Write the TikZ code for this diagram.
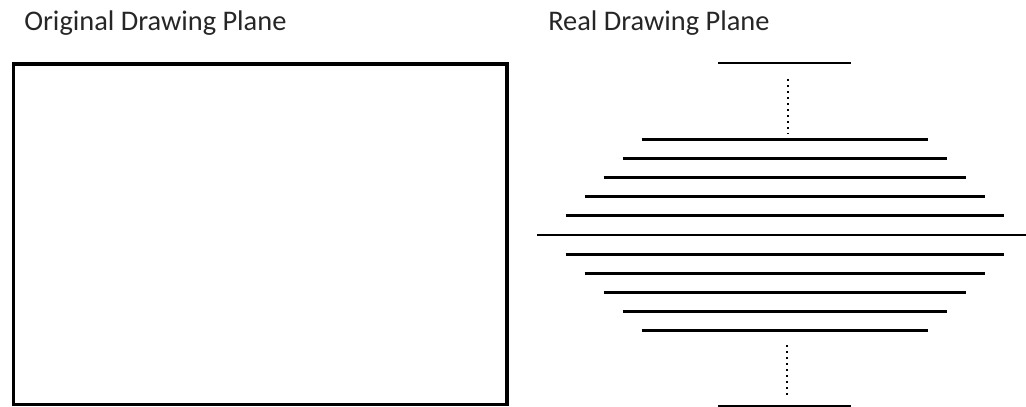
\documentclass[tikz,border=0pt]{standalone}
\usepackage{fontspec}
\setmainfont{Carlito}
\usepackage{tikz}

\begin{document}
\begin{tikzpicture}[
    x=0.025cm, y=-0.025cm,
    title/.style={anchor=base west, inner sep=0pt, text=black!85, font=\fontsize{20.2}{23}\selectfont},
    plane/.style={draw=black, line width=2.2pt},
    scanline/.style={draw=black, line width=2.1pt},
    gap/.style={draw=black, line width=2pt, dash pattern=on 1.5pt off 2.8pt}
]
\useasboundingbox (0,0) rectangle (1026,407);

\node[title] (origtitle) at (24,31) {Original Drawing Plane};
\node[title] (realtitle) at (548,31) {Real Drawing Plane};

% original plane
\draw[plane] (13.5,64) rectangle (507,404.5);

% real plane: scan lines round the middle one
\draw[scanline] (537,235) -- (1030,235);
\foreach \k in {1,...,5} {
    \draw[scanline] ({784.5-238+19*\k},{235-19.1*\k}) -- ({784.5+238-19*\k},{235-19.1*\k});
    \draw[scanline] ({784.5-238+19*\k},{235+19.1*\k}) -- ({784.5+238-19*\k},{235+19.1*\k});
}

% first and last line, with the lines left out
\draw[scanline] (718,63) -- (851,63);
\draw[scanline] (718,406) -- (851,406);
\draw[gap] (788,79) -- (788,134);
\draw[gap] (787,345) -- (787,398);

\end{tikzpicture}
\end{document}
